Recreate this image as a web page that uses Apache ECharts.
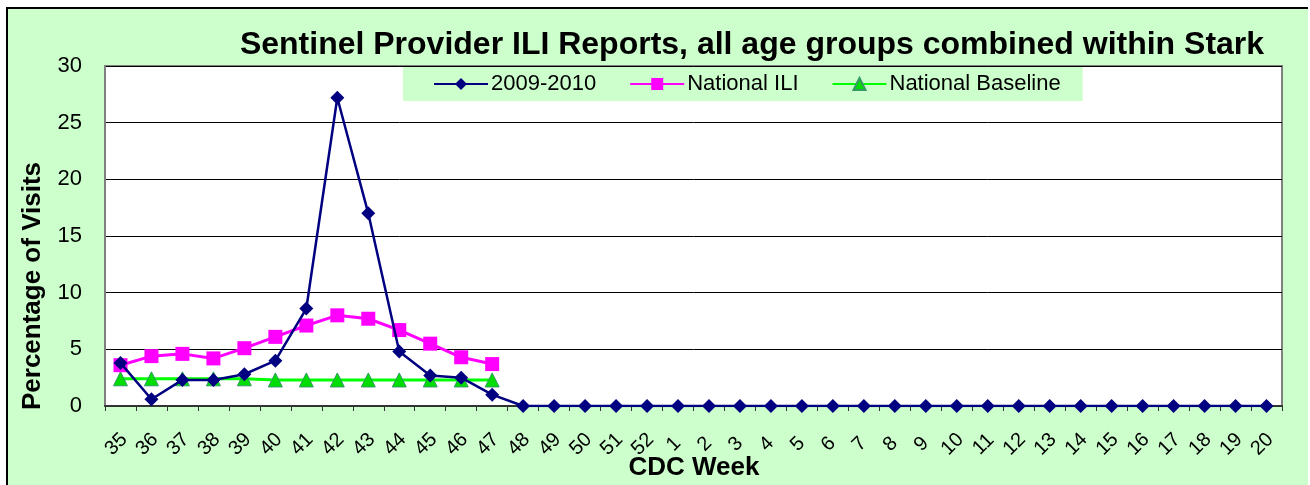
<!DOCTYPE html>
<html>
<head>
<meta charset="utf-8">
<script src="https://cdn.jsdelivr.net/npm/echarts@6/dist/echarts.min.js"></script>
<style>
html,body{margin:0;padding:0;background:#ffffff;}
#frame{position:absolute;left:6px;top:7px;width:1302px;height:478px;background:#CCFFCC;border-left:2px solid #000;border-top:2px solid #000;box-sizing:border-box;}
#chart{position:absolute;left:0;top:0;width:1310px;height:485px;}
</style>
</head>
<body>
<div id="frame"></div>
<div id="chart"></div>
<script>
var weeks = ['35','36','37','38','39','40','41','42','43','44','45','46','47','48','49','50','51','52','1','2','3','4','5','6','7','8','9','10','11','12','13','14','15','16','17','18','19','20'];
var season2009 = [3.8,0.6,2.3,2.3,2.8,4.0,8.6,27.2,17.0,4.8,2.7,2.5,1.0,0,0,0,0,0,0,0,0,0,0,0,0,0,0,0,0,0,0,0,0,0,0,0,0,0];
var nationalILI = [3.6,4.4,4.6,4.2,5.1,6.1,7.1,8.0,7.7,6.7,5.5,4.3,3.7];
var nationalBaseline = [2.4,2.4,2.4,2.4,2.4,2.3,2.3,2.3,2.3,2.3,2.3,2.3,2.3];
var yTicks = [0,5,10,15,20,25,30];

var chart = echarts.init(document.getElementById('chart'), null, {renderer:'canvas'});
var font = 'Liberation Sans, Arial, sans-serif';
chart.setOption({
  backgroundColor: 'transparent',
  animation: false,
  title: {
    text: 'Sentinel Provider ILI Reports, all age groups combined within Stark',
    left: 752, top: 29, textAlign: 'center', padding: 0,
    textStyle: {fontFamily: font, fontSize: 32, fontWeight: 'bold', color: '#000'}
  },
  legend: {
    left: 403, top: 67,
    padding: [6, 22, 6, 30],
    backgroundColor: '#CCFFCC',
    itemWidth: 54, itemHeight: 15, itemGap: 33,
    textStyle: {fontFamily: font, fontSize: 22, color: '#000', padding: [0,0,0,-2]},
    data: ['2009-2010','National ILI','National Baseline']
  },
  grid: {
    left: 105, right: 28, top: 66, bottom: 79,
    containLabel: false, outerBoundsMode: 'none',
    show: true, backgroundColor: '#ffffff', borderColor: '#808080', borderWidth: 2
  },
  graphic: [{
    type: 'text', x: 33, y: 286, rotation: Math.PI / 2,
    style: {text: 'Percentage of Visits', fontFamily: font, fontSize: 26, fontWeight: 'bold', fill: '#000',
            align: 'center', verticalAlign: 'middle'}
  }, {
    type: 'text', x: 694, y: 468,
    style: {text: 'CDC Week', fontFamily: font, fontSize: 26, fontWeight: 'bold', fill: '#000',
            align: 'center', verticalAlign: 'middle'}
  }],
  xAxis: {
    type: 'category', data: weeks, boundaryGap: true,
    axisLine: {lineStyle: {color: '#333', width: 2}},
    axisTick: {show: true, length: 5, lineStyle: {color: '#333'}},
    axisLabel: {interval: 0, rotate: 45, margin: 34, align: 'center', verticalAlign: 'middle',
                padding: [0, 12, 0, 0],
                fontFamily: font, fontSize: 20, color: '#000'}
  },
  yAxis: {
    type: 'value', min: yTicks[0], max: yTicks[yTicks.length-1], interval: 5,
    axisLine: {show: true, lineStyle: {color: '#808080', width: 2}},
    axisTick: {show: false},
    axisLabel: {margin: 23, fontFamily: font, fontSize: 22, color: '#000'},
    splitLine: {lineStyle: {color: '#000', width: 1}}
  },
  series: [
    {name: '2009-2010', type: 'line', data: season2009, symbol: 'diamond', symbolSize: 14,
     lineStyle: {color: '#000080', width: 2.5}, itemStyle: {color: '#000080'}, z: 3},
    {name: 'National ILI', type: 'line', data: nationalILI, symbol: 'rect', symbolSize: 14,
     lineStyle: {color: '#FF00FF', width: 3}, itemStyle: {color: '#FF00FF'}, z: 2},
    {name: 'National Baseline', type: 'line', data: nationalBaseline, symbol: 'triangle', symbolSize: 14,
     lineStyle: {color: '#00FF00', width: 3}, itemStyle: {color: '#00DD00', borderColor: '#339966', borderWidth: 1}, z: 1}
  ]
});
</script>
</body>
</html>
